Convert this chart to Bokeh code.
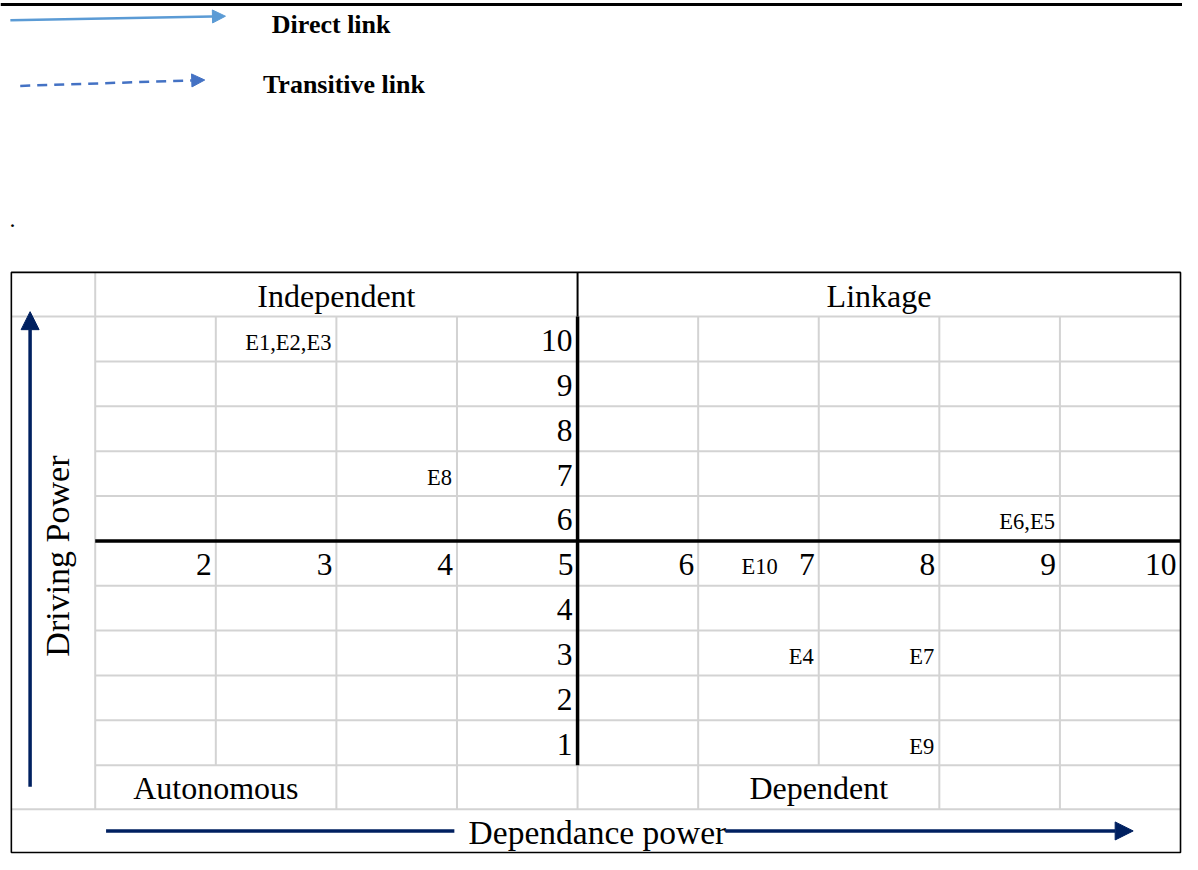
import math
from bokeh.plotting import figure
from bokeh.models import Range1d, Arrow, NormalHead, ColumnDataSource
from bokeh.embed import file_html
from bokeh.resources import INLINE
from bokeh.core.properties import value

# ---------------- data ----------------
dependence_ticks = [2, 3, 4, 5, 6, 7, 8, 9, 10]
driving_ticks = [1, 2, 3, 4, 5, 6, 7, 8, 9, 10]
mid_value = 5

element_labels = ["E1,E2,E3", "E8", "E6,E5", "E10", "E4", "E7", "E9"]
element_dependence = [3, 4, 9, 7, 7, 8, 8]
element_driving = [10, 7, 6, 5, 3, 3, 1]

quadrant_names = ["Independent", "Linkage", "Autonomous", "Dependent"]
legend_names = ["Direct link", "Transitive link"]
x_title = "Dependance power"
y_title = "Driving Power"

# ---------------- layout helpers (reference pixel -> data units) ----------------
PX_X = 122.22
PX_Y = 45.7
def xd(px):
    return 1 + (px - 96) / PX_X
def yd(py):
    return (779 - py) / PX_Y

FONT = value("Liberation Serif")
GRAY = "#D3D3D3"
NAVY = "#002060"

p = figure(width=1182, height=854,
           x_range=Range1d(xd(0), xd(1198)), y_range=Range1d(yd(870), yd(0)),
           output_backend="svg", toolbar_location=None,
           x_axis_location=None, y_axis_location=None, min_border=0)
p.grid.visible = False
p.outline_line_color = None
p.background_fill_color = "white"
p.border_fill_color = "white"

lo, hi = dependence_ticks[0] - 1, dependence_ticks[-1]     # 1 .. 10
bot, top = driving_ticks[0] - 1, driving_ticks[-1]          # 0 .. 10
hdr_top = yd(277)
foot_top = yd(824)
tbl_bottom = yd(868)
tbl_left = xd(11)

# ---------------- gray grid ----------------
x0s, x1s, y0s, y1s = [], [], [], []
for xv in range(lo, hi):
    if xv == lo:
        a, b = foot_top, hdr_top
    elif xv in (2, 7):          # merged cells in quadrant-name row
        a, b = bot, top
    elif xv == mid_value:
        a, b = foot_top, bot
    else:
        a, b = foot_top, top
    x0s.append(xv); x1s.append(xv); y0s.append(a); y1s.append(b)
for yv in range(bot, top):
    if yv == mid_value:
        continue
    x0s.append(lo); x1s.append(hi); y0s.append(yv); y1s.append(yv)
for yv in (top, foot_top):
    x0s.append(tbl_left); x1s.append(hi); y0s.append(yv); y1s.append(yv)
p.segment(x0=x0s, y0=y0s, x1=x1s, y1=y1s, line_color=GRAY, line_width=2)

# ---------------- black structure ----------------
p.quad(left=tbl_left, right=hi, bottom=tbl_bottom, top=hdr_top,
       fill_color=None, line_color="black", line_width=1.6)
p.segment(x0=[lo], y0=[mid_value], x1=[hi], y1=[mid_value], line_color="black", line_width=3.5)
p.segment(x0=[mid_value], y0=[bot], x1=[mid_value], y1=[top], line_color="black", line_width=3.5)
p.segment(x0=[mid_value], y0=[top], x1=[mid_value], y1=[hdr_top], line_color="black", line_width=2)
p.segment(x0=[xd(0)], y0=[yd(4)], x1=[xd(1198)], y1=[yd(4)], line_color="black", line_width=3)

# ---------------- tick labels ----------------
NUM_FS = "31.5px"
col_src = ColumnDataSource(dict(x=dependence_ticks, y=[mid_value - 1] * len(dependence_ticks),
                                t=[str(v) for v in dependence_ticks]))
p.text(x="x", y="y", text="t", source=col_src, text_font=FONT, text_font_size=NUM_FS,
       text_align="right", text_baseline="middle", x_offset=-4, y_offset=-21, text_color="black")
rows = [v for v in driving_ticks if v != mid_value]
row_src = ColumnDataSource(dict(x=[mid_value] * len(rows), y=[v - 1 for v in rows],
                                t=[str(v) for v in rows]))
p.text(x="x", y="y", text="t", source=row_src, text_font=FONT, text_font_size=NUM_FS,
       text_align="right", text_baseline="middle", x_offset=-5, y_offset=-21, text_color="black")

# ---------------- elements ----------------
offs = [-41 if (d in dependence_ticks and r == mid_value) else -5
        for d, r in zip(element_dependence, element_driving)]
el_src = ColumnDataSource(dict(x=element_dependence, y=[r - 1 for r in element_driving],
                               t=element_labels, xo=offs))
p.text(x="x", y="y", text="t", x_offset="xo", source=el_src, text_font=FONT, text_font_size="22.5px",
       text_align="right", text_baseline="middle", y_offset=-19, text_color="black")

# ---------------- quadrant names ----------------
q_src = ColumnDataSource(dict(x=[(lo + mid_value) / 2, (mid_value + hi) / 2, 2, 7],
                              y=[top, top, foot_top, foot_top], t=quadrant_names))
p.text(x="x", y="y", text="t", source=q_src, text_font=FONT, text_font_size="32px",
       text_align="center", text_baseline="middle", y_offset=-21, text_color="black")

# ---------------- axis titles and arrows ----------------
p.text(x=[xd(58)], y=[yd(566)], text=[y_title], angle=math.pi / 2, text_font=FONT,
       text_font_size="34px", text_align="center", text_baseline="middle", text_color="black")
p.text(x=[xd(605)], y=[yd(848)], text=[x_title], text_font=FONT,
       text_font_size="33.5px", text_align="center", text_baseline="middle", text_color="black")

p.add_layout(Arrow(end=NormalHead(size=18, fill_color=NAVY, line_color=NAVY),
                   x_start=xd(30), y_start=yd(801), x_end=xd(30), y_end=yd(317),
                   line_color=NAVY, line_width=3.5))
p.segment(x0=[xd(107)], y0=[yd(846)], x1=[xd(460)], y1=[yd(846)], line_color=NAVY, line_width=3.5)
p.add_layout(Arrow(end=NormalHead(size=18, fill_color=NAVY, line_color=NAVY),
                   x_start=xd(735), y_start=yd(846), x_end=xd(1148), y_end=yd(846),
                   line_color=NAVY, line_width=3.5))

# ---------------- legend ----------------
p.add_layout(Arrow(end=NormalHead(size=13, fill_color="#5B9BD5", line_color="#5B9BD5"),
                   x_start=xd(10), y_start=yd(20), x_end=xd(228), y_end=yd(16),
                   line_color="#5B9BD5", line_width=2.5))
p.add_layout(Arrow(end=NormalHead(size=13, fill_color="#4472C4", line_color="#4472C4"),
                   x_start=xd(20), y_start=yd(87), x_end=xd(207), y_end=yd(81),
                   line_color="#4472C4", line_width=2.5, line_dash="10 7"))
p.text(x=[xd(275), xd(266)], y=[yd(24), yd(86)], text=legend_names, text_font=FONT,
       text_font_size="26px", text_font_style="bold", text_align="left",
       text_baseline="middle", text_color="black")
p.text(x=[xd(9)], y=[yd(223)], text=["."], text_font=FONT, text_font_size="24px",
       text_align="left", text_baseline="middle", text_color="black")

open("out.html", "w").write(file_html(p, INLINE))
